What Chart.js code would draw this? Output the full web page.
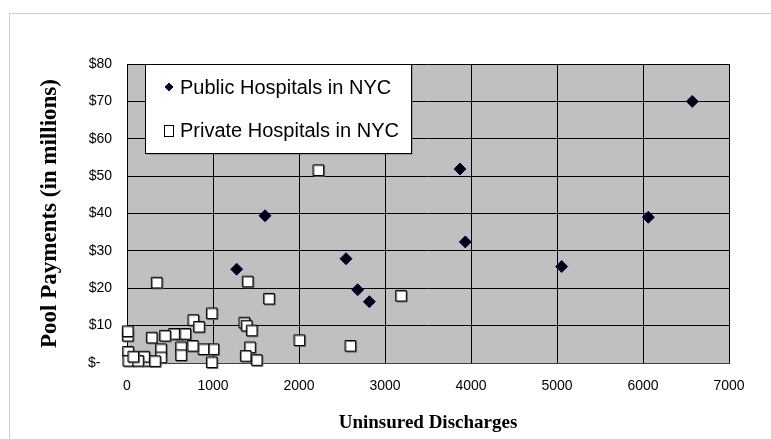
<!DOCTYPE html>
<html>
<head>
<meta charset="utf-8">
<script src="https://cdn.jsdelivr.net/npm/chart.js@4/dist/chart.umd.min.js"></script>
<style>
  html, body { margin: 0; padding: 0; background: #fff; }
  canvas { display: block; }
</style>
</head>
<body>
<canvas id="poolChart" width="771" height="439"></canvas>
<script>
// Public hospitals (diamonds)
const publicX = [1275, 1605, 2547, 2682, 2818, 3872, 3934, 5054, 6062, 6573];
const publicY = [25.1, 39.4, 27.9, 19.6, 16.4, 51.9, 32.4, 25.8, 39.0, 70.0];

// Private hospitals (squares)
const privateX = [345, 1403, 1651, 2225, 3186, 2597, 2004, 985, 771, 837,
                  616, 547, 678, 442, 287, 8, 8, 1364, 1391, 1450,
                  1430, 1380, 1508, 1004, 888, 985, 764, 628, 628, 395,
                  395, 12, 15, 229, 198, 325, 128, 73];
const privateY = [21.5, 21.8, 17.2, 51.6, 18.0, 4.6, 6.1, 13.3, 11.5, 9.7,
                  7.8, 7.8, 7.8, 7.3, 6.8, 7.3, 8.5, 10.8, 10.0, 8.7,
                  4.2, 1.9, 0.8, 3.7, 3.7, 0.2, 4.6, 4.2, 2.1, 3.7,
                  1.5, 3.0, 0.6, 0.6, 1.7, 0.5, 0.6, 1.7];

const seriesNames = ['Public Hospitals in NYC', 'Private Hospitals in NYC'];
const xTitle = 'Uninsured Discharges';
const yTitle = 'Pool Payments (in millions)';

function toPoints(xs, ys) {
    return xs.map(function(x, i) { return { x: x, y: ys[i] }; });
}

// gray plot area + outer frame
const backdrop = {
    id: 'backdrop',
    beforeDraw: function(chart) {
        const ctx = chart.ctx;
        const a = chart.chartArea;
        ctx.save();
        ctx.fillStyle = '#fff';
        ctx.fillRect(0, 0, chart.width, chart.height);
        ctx.strokeStyle = '#cfcfcf';
        ctx.lineWidth = 1;
        ctx.strokeRect(9.5, 13.5, 900, 600);
        ctx.fillStyle = '#c0c0c0';
        ctx.fillRect(a.left, a.top, a.right - a.left, a.bottom - a.top);
        ctx.restore();
    }
};

// gray drop shadow for the squares
const markerShadow = {
    id: 'markerShadow',
    beforeDatasetDraw: function(chart, args) {
        const ctx = chart.ctx;
        ctx.save();
        if (args.index === 1) {
            ctx.shadowColor = 'rgba(90,90,90,0.8)';
            ctx.shadowOffsetX = 1;
            ctx.shadowOffsetY = 1;
        }
    },
    afterDatasetDraw: function(chart) {
        chart.ctx.restore();
    }
};

// legend box inside the plot, top left
const boxLegend = {
    id: 'boxLegend',
    afterDraw: function(chart) {
        const ctx = chart.ctx;
        ctx.save();
        ctx.shadowColor = 'rgba(80,80,80,0.7)';
        ctx.shadowOffsetX = 1;
        ctx.shadowOffsetY = 1;
        ctx.fillStyle = '#fff';
        ctx.fillRect(145.5, 64.5, 266, 89);
        ctx.shadowColor = 'transparent';
        ctx.strokeStyle = '#000';
        ctx.lineWidth = 1;
        ctx.strokeRect(145.5, 64.5, 266, 89);

        // diamond
        ctx.beginPath();
        ctx.moveTo(169, 83);
        ctx.lineTo(173, 87);
        ctx.lineTo(169, 91);
        ctx.lineTo(165, 87);
        ctx.closePath();
        ctx.fillStyle = '#000';
        ctx.fill();
        ctx.strokeStyle = '#000080';
        ctx.stroke();

        // square
        ctx.fillStyle = '#fff';
        ctx.fillRect(164.5, 125.5, 9, 11);
        ctx.strokeStyle = '#000';
        ctx.strokeRect(164.5, 125.5, 9, 11);

        ctx.fillStyle = '#000';
        ctx.font = '20px "Liberation Sans", Arial, sans-serif';
        ctx.textBaseline = 'middle';
        ctx.textAlign = 'left';
        ctx.fillText(seriesNames[0], 180, 88);
        ctx.fillText(seriesNames[1], 180, 131);
        ctx.restore();
    }
};

const ctx = document.getElementById('poolChart');
new Chart(ctx, {
    type: 'scatter',
    data: {
        datasets: [{
            label: seriesNames[0],
            data: toPoints(publicX, publicY),
            pointStyle: 'rectRot',
            pointRadius: 6,
            pointHoverRadius: 6,
            backgroundColor: '#000',
            borderColor: '#000080',
            borderWidth: 1,
            clip: false
        }, {
            label: seriesNames[1],
            data: toPoints(privateX, privateY),
            pointStyle: 'rect',
            pointRadius: 7.5,
            pointHoverRadius: 7.5,
            backgroundColor: '#fff',
            borderColor: '#000',
            borderWidth: 1,
            clip: false
        }]
    },
    options: {
        responsive: false,
        animation: false,
        layout: {
            padding: { left: 32, top: 64, right: 42, bottom: 0 }
        },
        plugins: {
            legend: { display: false },
            tooltip: { enabled: false }
        },
        scales: {
            x: {
                type: 'linear',
                min: 0,
                max: 7000,
                afterFit: function(scale) { scale.height = 76; },
                ticks: {
                    stepSize: 1000,
                    padding: 15,
                    color: '#000',
                    maxRotation: 0,
                    font: { family: '"Liberation Sans", Arial, sans-serif', size: 14 },
                    callback: function(v) { return String(v); }
                },
                grid: { color: '#000', lineWidth: 1, drawTicks: false },
                border: { color: '#404040', width: 1 },
                title: {
                    display: true,
                    text: xTitle,
                    color: '#000',
                    padding: { top: 0, bottom: 5 },
                    font: { family: '"Liberation Serif", "Times New Roman", serif', size: 19, weight: 'bold' }
                }
            },
            y: {
                type: 'linear',
                min: 0,
                max: 80,
                afterFit: function(scale) { scale.width = 95; },
                ticks: {
                    stepSize: 10,
                    padding: 15,
                    color: '#000',
                    font: { family: '"Liberation Sans", Arial, sans-serif', size: 14 },
                    // accounting style: zero shows as "$-" set in from the right
                    callback: function(v) { return v === 0 ? '$-   ' : '$' + v; }
                },
                grid: { color: '#000', lineWidth: 1, drawTicks: false },
                border: { color: '#000', width: 1 },
                title: {
                    display: true,
                    text: yTitle,
                    color: '#000',
                    padding: { top: 4, bottom: 4 },
                    font: { family: '"Liberation Serif", "Times New Roman", serif', size: 23, weight: 'bold' }
                }
            }
        }
    },
    plugins: [backdrop, markerShadow, boxLegend]
});
</script>
</body>
</html>
